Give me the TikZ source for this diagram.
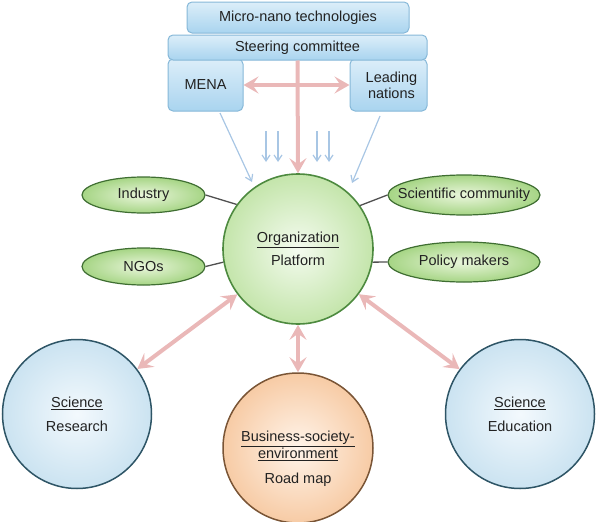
\documentclass[tikz,border=0pt]{standalone}
\usepackage{fontspec}
\setmainfont{Liberation Sans}
\usetikzlibrary{shapes.geometric,arrows.meta,calc}
\definecolor{boxtop}{HTML}{DCEEF9}
\definecolor{boxbot}{HTML}{A9D4EF}
\definecolor{boxline}{HTML}{86B8D8}
\definecolor{grin}{HTML}{EAF6DC}
\definecolor{grout}{HTML}{A6D585}
\definecolor{grline}{HTML}{3F6E32}
\definecolor{orgin}{HTML}{F4FBEF}
\definecolor{orgout}{HTML}{C4E5AB}
\definecolor{orgline}{HTML}{4D8A3F}
\definecolor{blin}{HTML}{F3F9FD}
\definecolor{blout}{HTML}{CBE3F1}
\definecolor{blline}{HTML}{2E5566}
\definecolor{orin}{HTML}{FFF4EA}
\definecolor{orout}{HTML}{F7CBA5}
\definecolor{orline}{HTML}{7A5536}
\definecolor{pinkarr}{HTML}{EAB8B8}
\definecolor{thinblue}{HTML}{A8C6E4}
\definecolor{linkgray}{HTML}{505050}
\definecolor{txt}{HTML}{222222}
\begin{document}
\begin{tikzpicture}[x=1pt,y=-1pt,
  every node/.style={font=\fontsize{14.5}{17}\selectfont, text=txt},
  topbox/.style={draw=boxline, line width=1pt, rounded corners=5pt, top color=boxtop, bottom color=boxbot, inner sep=0pt},
  greenell/.style={ellipse, draw=grline, line width=1.2pt, inner color=grin, outer color=grout, inner sep=0pt},
  orgcirc/.style={circle, draw=orgline, line width=1.6pt, inner color=orgin, outer color=orgout, minimum size=150pt, inner sep=0pt, align=center},
  bluecirc/.style={circle, draw=blline, line width=1.5pt, inner color=blin, outer color=blout, minimum size=149pt, inner sep=0pt, align=center},
  orcirc/.style={circle, draw=orline, line width=1.5pt, inner color=orin, outer color=orout, minimum size=150pt, inner sep=0pt, align=center},
  pinkline/.style={draw=pinkarr, line width=4pt, {Stealth[length=15pt,width=17pt,inset=6pt]}-{Stealth[length=15pt,width=17pt,inset=6pt]}},
  pinkone/.style={draw=pinkarr, line width=4pt, -{Stealth[length=15pt,width=17pt,inset=6pt]}},
  thinarr/.style={draw=thinblue, line width=1.2pt, -{Straight Barb[length=6pt,width=8pt]}},
  link/.style={draw=linkgray, line width=1.3pt}
]
\useasboundingbox (0,0) rectangle (597,522);

% top boxes
\node[topbox, minimum width=75pt, minimum height=52pt] (mena) at (205.5,85) {MENA};
\node[topbox, minimum width=77pt, minimum height=52pt, align=center, font=\fontsize{14.5}{16}\selectfont] (lead) at (388.5,85) {\hspace*{6pt}Leading\\\hspace*{6pt}nations};
\node[topbox, minimum width=259pt, minimum height=25pt] (steer) at (297.5,47.5) {Steering committee};
\node[topbox, minimum width=222pt, minimum height=31pt] (micro) at (298,17.5) {Micro-nano technologies};

% central circle
\node[orgcirc] (org) at (298,249) {\underline{Organization}\\[6pt]Platform};

% ellipses
\node[greenell, minimum width=123pt, minimum height=36pt] (ind) at (143.5,195) {Industry};
\node[greenell, minimum width=123pt, minimum height=37pt] (ngo) at (143.5,266.5) {NGOs};
\node[greenell, minimum width=152pt, minimum height=40pt, inner xsep=-13pt] (sci) at (464,195) {Scientific community};
\node[greenell, minimum width=152pt, minimum height=40pt] (pol) at (464,262) {Policy makers};

% bottom circles
\node[bluecirc] (res) at (77,414) {\underline{Science}\\[7pt]Research};
\node[bluecirc] (edu) at (520,414) {\underline{Science}\\[7pt]Education};
\node[orcirc] (road) at (298,448) {};
\node[align=center] (roadt) at (298,459) {\underline{Business-society-}\\\underline{environment}\\[8pt]Road map};

% links
\draw[link] (ind.east) -- (org.144);
\draw[link] (ngo.east) -- (org.190);
\draw[link] (sci.west) -- (org.35);
\draw[link] (pol.west) -- (org.350);

% pink arrows
\draw[pinkone] (steer.south) -- (org.north);
\draw[pinkline] (mena.east) -- (lead.west);
\draw[pinkline] (org) -- (res);
\draw[pinkline] (org) -- (edu);
\draw[pinkline] (org.south) -- (road.north);

% thin blue arrows
\coordinate (m1) at (220,113);
\coordinate (m2) at (252,182);
\coordinate (l1) at (380,116);
\coordinate (l2) at (352,183);
\draw[thinarr] (m1) -- (m2);
\draw[thinarr] (l1) -- (l2);
\foreach \xx [count=\i] in {266,278,317,329}{
  \coordinate (s\i a) at (\xx,131);
  \coordinate (s\i b) at (\xx,162);
  \draw[thinarr] (s\i a) -- (s\i b);
}
\end{tikzpicture}
\end{document}
